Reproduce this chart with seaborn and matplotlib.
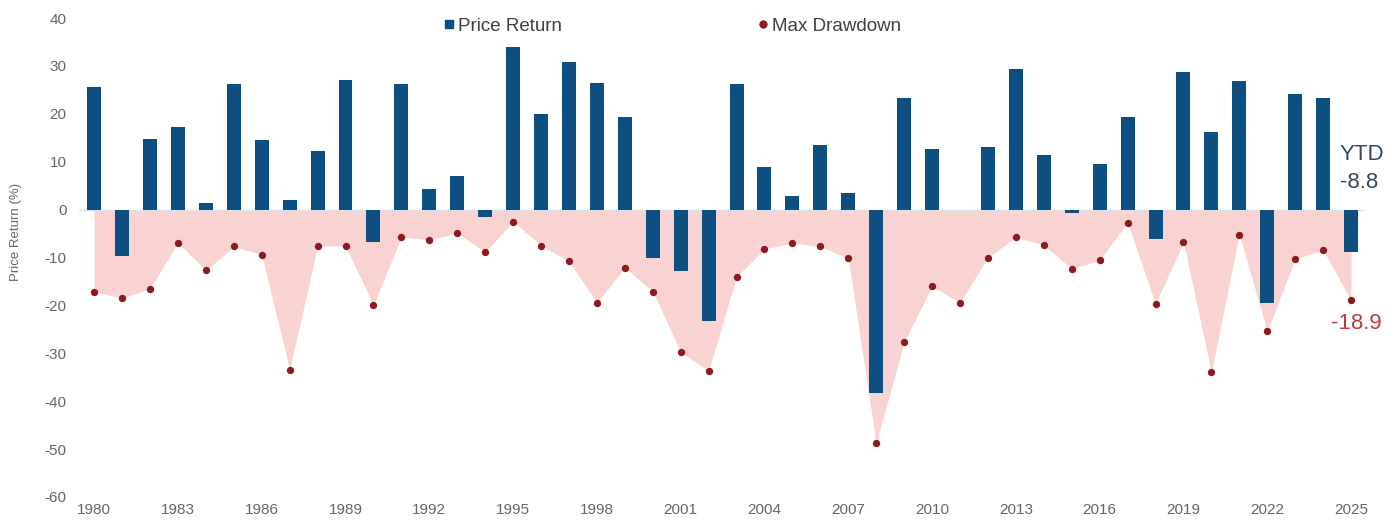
import numpy as np
import pandas as pd
import matplotlib
matplotlib.use("Agg")
import matplotlib.pyplot as plt
from matplotlib.lines import Line2D
import seaborn as sns

years = list(range(1980, 2026))
price_return = [25.5, -9.7, 14.7, 17.2, 1.3, 26.2, 14.5, 2.0, 12.2, 27.1,
                -6.7, 26.2, 4.4, 7.0, -1.5, 34.0, 20.0, 30.8, 26.5, 19.4,
                -10.2, -12.8, -23.3, 26.2, 8.8, 2.9, 13.5, 3.5, -38.2, 23.2,
                12.6, 0.0, 13.1, 29.4, 11.3, -0.7, 9.5, 19.4, -6.2, 28.8,
                16.3, 26.9, -19.4, 24.2, 23.3, -8.8]
max_drawdown = [-17.1, -18.5, -16.5, -6.9, -12.7, -7.7, -9.4, -33.4, -7.6, -7.6,
                -19.9, -5.7, -6.3, -4.9, -8.8, -2.5, -7.5, -10.8, -19.4, -12.1,
                -17.1, -29.7, -33.7, -14.0, -8.2, -7.0, -7.7, -10.2, -48.8, -27.6,
                -16.0, -19.4, -10.0, -5.8, -7.4, -12.4, -10.5, -2.7, -19.7, -6.8,
                -33.9, -5.2, -25.4, -10.3, -8.5, -18.9]
y_ticks = [40, 30, 20, 10, 0, -10, -20, -30, -40, -50, -60]
x_tick_years = years[::3]

BAR = "#0d4f80"
DOT = "#8e1a1f"
FILL = "#f9d2d2"
GRAY = "#666666"

sns.set_theme(style="white")
plt.rcParams["font.family"] = ["Liberation Sans", "DejaVu Sans"]

df = pd.DataFrame({"year": [str(y) for y in years],
                   "ret": price_return, "dd": max_drawdown})
pos = np.arange(len(years))

fig = plt.figure(figsize=(13.99, 5.22), dpi=100)
ax = fig.add_axes([0.0565, 0.0479, 0.9192, 0.9176])

ax.fill_between(pos, 0, df["dd"], color=FILL, linewidth=0, zorder=0)
sns.barplot(data=df, x="year", y="ret", color=BAR, width=0.5,
            saturation=1, linewidth=0, ax=ax, zorder=2)
sns.scatterplot(x=pos, y=df["dd"], color=DOT, s=28, linewidth=0,
                ax=ax, zorder=3)
ax.axhline(0, color="#dbe3ea", lw=1, zorder=1)

ax.set_xlim(-0.54, len(years) - 1 + 0.5)
ax.set_ylim(-60, 40)
ax.set_yticks(y_ticks)
ax.set_yticklabels([str(t) for t in y_ticks])
ax.set_xticks([years.index(y) for y in x_tick_years])
ax.set_xticklabels([str(y) for y in x_tick_years])
ax.tick_params(axis="both", length=0, labelsize=11, colors=GRAY)
ax.tick_params(axis="y", pad=9)
ax.tick_params(axis="x", pad=4)
for s in ax.spines.values():
    s.set_visible(False)
ax.set_xlabel("")
ax.set_ylabel("Price Return (%)", fontsize=9.5, color=GRAY)
ax.yaxis.set_label_coords(-0.044, 0.553)

last = len(years) - 1
ax.text(last - 0.4, 11.4, "YTD", fontsize=16, color="#34495e",
        ha="left", va="center")
ax.text(last - 0.4, 5.6, f"{price_return[-1]:.1f}", fontsize=16,
        color="#34495e", ha="left", va="center")
ax.text(last + 0.2, -23.7, f"{max_drawdown[-1]:.1f}", fontsize=16,
        color="#c0393b", ha="center", va="center")

handles = [Line2D([], [], marker="s", color=BAR, linestyle="none", markersize=6),
           Line2D([], [], marker="o", color=DOT, linestyle="none", markersize=5)]
fig.legend(handles, ["Price Return", "Max Drawdown"], ncol=2,
           loc="center", bbox_to_anchor=(0.480, 0.950), frameon=False,
           fontsize=13.5, handletextpad=0.1, columnspacing=10.3,
           labelcolor="#404040", handlelength=0.8)

fig.savefig("out.png", dpi=100)
